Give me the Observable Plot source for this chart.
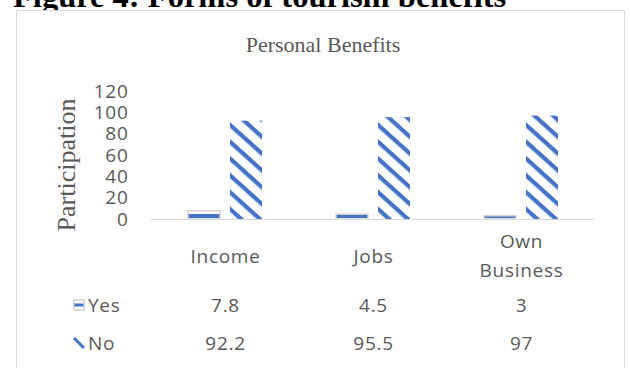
<!DOCTYPE html>
<html>
<head>
<meta charset="utf-8">
<script src="https://cdn.jsdelivr.net/npm/d3@7"></script>
<script src="https://cdn.jsdelivr.net/npm/@observablehq/plot@0.6"></script>
<style>
  html, body { margin: 0; padding: 0; background: #fff; }
  #wrap { position: relative; width: 630px; height: 368px; overflow: hidden; background: #fff; }
  #figTitle { position: absolute; left: 13px; top: -20px; font: bold 32.5px/32.5px "Liberation Serif", "Times New Roman", serif; color: #000; white-space: nowrap; }
  #frame { position: absolute; left: 16px; top: 10px; width: 607px; height: 400px; border: 1.5px solid #d9d9d9; background: #fff; }
  #chartTitle { position: absolute; left: 323px; top: 34px; transform: translateX(-50%); font: 22px/22px "Liberation Serif", "Times New Roman", serif; color: #595959; white-space: nowrap; }
  #yTitle { position: absolute; left: 67px; top: 165px; transform: translate(-50%, -50%) rotate(-90deg); font: 26px/26px "Liberation Serif", "Times New Roman", serif; color: #595959; white-space: nowrap; }
  #plotHolder { position: absolute; left: 0; top: 0; }
  .rowLabel { position: absolute; left: 73px; height: 20px; display: flex; align-items: center; gap: 3px; font: 19px "Open Sans", sans-serif; letter-spacing: 0.7px; color: #595959; transform: translateY(-50%); }
</style>
</head>
<body>
<div id="wrap">
  <div id="figTitle">Figure 4: Forms of tourism benefits</div>
  <div id="frame"></div>
  <div id="chartTitle">Personal Benefits</div>
  <div id="yTitle">Participation</div>
  <div id="plotHolder"></div>
  <div class="rowLabel" id="rowYes" style="top:305px">
    <svg width="12" height="12"><rect x="0.75" y="0.75" width="10.5" height="10.5" fill="#fff" stroke="#d4d4d4" stroke-width="1.5"/><rect x="1.5" y="4.5" width="9" height="3" fill="#4472C4"/></svg>
    <span>Yes</span>
  </div>
  <div class="rowLabel" id="rowNo" style="top:343px">
    <svg width="12" height="12"><line x1="1" y1="1" x2="11" y2="11" stroke="#4472C4" stroke-width="3"/></svg>
    <span>No</span>
  </div>
</div>
<script>
// ---- data ----
const categories = ["Income", "Jobs", "Own\nBusiness"];
const series = ["Yes", "No"];
const yesValues = [7.8, 4.5, 3];
const noValues = [92.2, 95.5, 97];
const yTicks = [0, 20, 40, 60, 80, 100, 120];

// tidy table built from arrays
const rows = [];
categories.forEach((c, i) => {
  rows.push({category: c, series: "Yes", value: yesValues[i]});
  rows.push({category: c, series: "No", value: noValues[i]});
});
const yesRows = rows.filter(d => d.series === "Yes");
const noRows = rows.filter(d => d.series === "No");
const catRows = categories.map(c => ({category: c}));

const blue = "#4472C4";

const plot = Plot.plot({
  width: 630,
  height: 368,
  marginLeft: 150,
  marginRight: 34,
  marginTop: 91,
  marginBottom: 149,
  style: {fontFamily: "'Open Sans', sans-serif", fontSize: "19px", color: "#595959", background: "transparent", overflow: "visible", letterSpacing: "0.7px"},
  fx: {domain: categories, padding: 0, axis: null},
  x: {domain: series, paddingInner: 0.233, paddingOuter: 0.846, axis: null},
  y: {domain: [0, 120], ticks: yTicks, tickSize: 0, tickPadding: 23, label: null},
  marks: [
    Plot.barY(yesRows, {fx: "category", x: "series", y: "value", fill: "url(#yesPat)", stroke: "#d4d4d4", strokeWidth: 1.5}),
    Plot.barY(noRows, {fx: "category", x: "series", y: "value", fill: "url(#noPat)"}),
    Plot.ruleY([0], {stroke: "#d9d9d9", strokeWidth: 1.2}),
    Plot.text(catRows, {fx: "category", text: "category", frameAnchor: "bottom", dy: 34, lineAnchor: "middle", lineHeight: 1.53, fill: "#595959"}),
    Plot.text(yesRows, {fx: "category", text: d => String(d.value), frameAnchor: "bottom", dy: 86, lineAnchor: "middle", fill: "#595959"}),
    Plot.text(noRows, {fx: "category", text: d => String(d.value), frameAnchor: "bottom", dy: 124, lineAnchor: "middle", fill: "#595959"})
  ]
});

// patterns
const svg = d3.select(plot.tagName.toLowerCase() === "svg" ? plot : plot.querySelector("svg"));
const defs = svg.insert("defs", ":first-child");
const np = defs.append("pattern").attr("id", "noPat").attr("patternUnits", "userSpaceOnUse")
  .attr("width", 14).attr("height", 12.5).attr("patternTransform", "rotate(42)");
np.append("rect").attr("width", 14).attr("height", 12.5).attr("fill", "#fff");
np.append("rect").attr("width", 14).attr("height", 4.2).attr("fill", blue);
const yp = defs.append("pattern").attr("id", "yesPat").attr("patternUnits", "userSpaceOnUse")
  .attr("width", 8).attr("height", 8);
yp.append("rect").attr("width", 8).attr("height", 8).attr("fill", "#fff");
yp.append("rect").attr("y", 0).attr("width", 8).attr("height", 2).attr("fill", blue);
yp.append("rect").attr("y", 6).attr("width", 8).attr("height", 2).attr("fill", blue);

document.getElementById("plotHolder").appendChild(plot);
</script>
</body>
</html>
